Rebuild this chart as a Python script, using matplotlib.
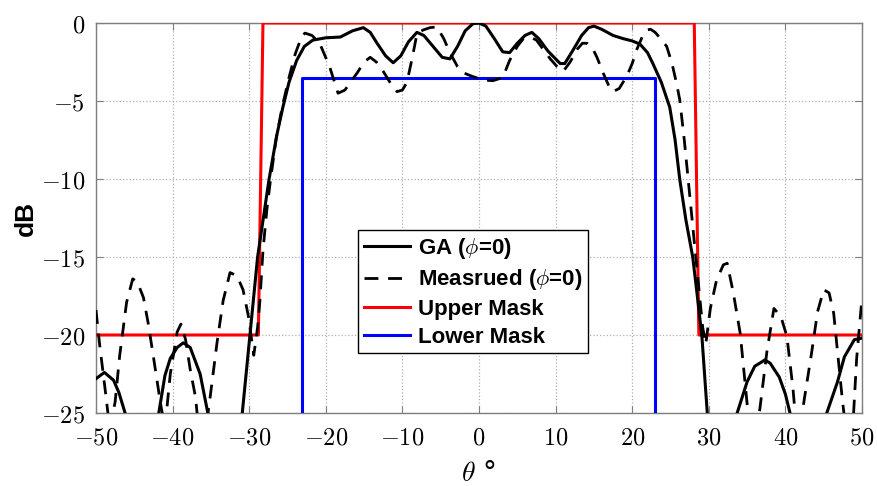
import matplotlib
matplotlib.use("Agg")
import matplotlib.pyplot as plt

plt.rcParams['mathtext.fontset'] = 'cm'

# GA (phi=0) pattern
ga_theta = [-50, -48.9, -47.7, -47.0, -46.2, -45.2, -44.0, -42.8, -41.8, -41.0, -40.3, -39.4,
            -38.6, -37.7, -36.4, -35.4, -34.5, -33.3, -32.0, -30.9, -29.9, -28.9, -27.4,
            -26.4, -25.6, -24.8, -23.8, -22.8, -21.7, -20.0, -18.1, -16.5, -15.1, -14.2,
            -13.3, -12.2, -11.2, -10.2, -9.2, -8.1, -7.2, -6.0, -4.8, -3.8, -2.8, -1.8,
            -0.8, 0.0, 0.9, 2.0, 3.1, 4.0, 5.0, 6.0, 6.9, 7.8, 9.0, 10.6, 11.2, 12.2,
            13.4, 14.3, 15.0, 16.0, 17.5, 18.8, 20.0, 21.0, 22.0, 22.7, 23.8, 24.9, 25.6,
            26.2, 27.0, 27.9, 28.5, 29.1, 29.8, 30.5, 31.5, 32.8, 33.7, 35.0, 36.0, 37.0,
            37.3, 38.0, 39.2, 40.0, 40.6, 41.5, 43.0, 44.4, 45.4, 46.8, 47.7, 49.0, 50.0]
ga_db = [-22.8, -22.4, -22.9, -23.7, -25.0, -28.0, -35.0, -28.0, -25.0, -22.6, -21.5, -20.8,
         -20.5, -20.8, -22.5, -25.0, -28.0, -35.0, -28.0, -25.0, -20.0, -15.0, -10.0,
         -7.2, -5.4, -3.8, -2.4, -1.5, -1.1, -0.95, -0.9, -0.5, -0.3, -0.6,
         -1.3, -2.1, -2.55, -2.1, -1.2, -0.6, -0.8, -1.5, -2.2, -2.3, -1.5, -0.5,
         -0.05, 0.0, -0.2, -1.0, -1.85, -1.9, -1.3, -0.8, -0.6, -1.0, -1.8, -2.6, -2.6, -1.8,
         -0.8, -0.3, -0.2, -0.4, -0.8, -1.0, -1.15, -1.35, -1.9, -2.6, -3.8, -5.4, -7.5,
         -10.0, -12.6, -15.0, -17.5, -20.1, -25.0, -30.0, -36.0, -29.0, -25.0, -23.0, -22.0, -21.7,
         -21.6, -21.8, -22.7, -23.8, -25.0, -28.0, -35.0, -28.0, -25.0, -23.0, -21.4, -20.3, -20.2]

# Measured (phi=0) pattern
ms_theta = [-50.0, -49.5, -48.8, -48.2, -47.5, -46.9, -46.5, -46.0, -45.2, -44.6, -43.8, -43.2,
            -42.5, -41.6, -41.0, -40.3, -39.4, -38.9, -38.3, -37.7, -37.0, -36.2, -35.1,
            -34.2, -33.4, -32.5, -31.6, -30.8, -30.1, -29.4, -28.9, -28.6, -28.2, -27.7,
            -27.2, -26.5, -25.7, -24.8, -24.0, -23.1, -22.7, -21.8, -20.8, -19.5, -18.4,
            -17.5, -16.8, -15.9, -15.0, -14.2, -13.4, -12.5, -11.5, -10.7, -10.0, -9.4,
            -8.7, -8.1, -7.3, -6.4, -5.5, -4.6, -3.8, -2.8, -2.0, -1.0, 0.5, 1.8, 3.1,
            4.0, 5.0, 5.8, 6.7, 7.5, 8.4, 9.3, 10.2, 11.0, 11.9, 12.8, 13.5, 14.1, 14.8,
            15.4, 16.2, 17.1, 17.5, 18.3, 19.3, 20.0, 20.6, 21.3, 21.9, 22.4, 23.0, 23.7,
            24.5, 25.2, 25.8, 26.2, 26.8, 27.3, 27.8, 28.3, 28.8, 29.2, 29.6, 30.2, 31.0,
            31.9, 32.4, 33.2, 34.1, 35.0, 35.8, 36.7, 37.6, 38.5, 39.4, 40.2, 41.0, 41.6,
            42.5, 43.4, 44.2, 45.0, 45.7, 46.3, 47.4, 48.1, 48.9, 49.3, 49.7, 50.0]
ms_db = [-18.4, -20.7, -23.5, -26.0, -24.3, -21.3, -19.8, -17.9, -16.4, -16.6, -17.6, -19.2,
         -21.4, -24.3, -26.0, -22.5, -19.8, -19.3, -20.3, -22.2, -24.0, -28.0, -24.0,
         -20.5, -17.8, -16.0, -16.2, -17.1, -18.8, -21.3, -19.5, -17.8, -14.6, -12.0,
         -10.0, -7.5, -5.4, -3.5, -2.0, -0.8, -0.65, -0.8, -1.3, -2.8, -4.5,
         -4.3, -3.8, -3.2, -2.5, -2.2, -2.5, -3.1, -3.9, -4.4, -4.3, -3.8,
         -2.2, -0.7, -0.45, -0.3, -0.25, -1.0, -1.9, -2.8, -3.2, -3.4, -3.65, -3.7, -3.5,
         -2.4, -1.5, -1.0, -0.9, -1.1, -1.7, -2.3, -2.8, -3.1, -2.5, -1.7, -1.3, -1.3, -1.6,
         -2.2, -3.2, -4.2, -4.4, -4.2, -3.4, -2.6, -1.7, -0.9, -0.45, -0.4, -0.6, -1.0,
         -1.5, -2.6, -3.9, -4.9, -7.5, -10.0, -12.5, -15.0, -17.5, -19.5, -20.6, -18.3, -16.5,
         -15.5, -15.4, -17.3, -19.9, -24.4, -28.0, -24.6, -21.0, -18.3, -18.8, -20.1, -23.5, -27.0,
         -24.0, -21.2, -18.5, -17.1, -17.3, -18.6, -24.0, -27.0, -25.0, -21.5, -19.3, -17.6]

# Masks
upper_theta = [-50, -28.8, -28.2, 28.1, 28.7, 50]
upper_db = [-20, -20, 0, 0, -20, -20]
lower_theta = [-23.1, -23.1, 23.0, 23.0]
lower_db = [-30, -3.5, -3.5, -30]

xticks = [-50, -40, -30, -20, -10, 0, 10, 20, 30, 40, 50]
yticks = [-25, -20, -15, -10, -5, 0]

fig = plt.figure(figsize=(8.78, 4.86), dpi=100)
ax = fig.add_axes([0.1093, 0.1502, 0.8725, 0.8025])

ax.plot(ga_theta, ga_db, color='black', lw=2.2, label=r'GA ($\phi$=0)', zorder=4)
ax.plot(ms_theta, ms_db, color='black', lw=2.0, dashes=(5, 3.5),
        label=r'Measrued ($\phi$=0)', zorder=4)
ax.plot(upper_theta, upper_db, color='#ff0000', lw=2.2, label='Upper Mask', zorder=3)
ax.plot(lower_theta, lower_db, color='#0000ff', lw=2.2, label='Lower Mask', zorder=3)

ax.set_xlim(-50, 50)
ax.set_ylim(-25, 0)
ax.set_xticks(xticks)
ax.set_yticks(yticks)
ax.set_xticklabels([r'$%d$' % v for v in xticks], fontsize=17.5)
ax.set_yticklabels([r'$%d$' % v for v in yticks], fontsize=17.5)
ax.tick_params(axis='x', pad=9)
ax.tick_params(axis='y', pad=8)
ax.tick_params(direction='in', length=5, width=0.8, color='#7f7f7f',
               top=True, right=True)
ax.grid(True, linestyle=':', color='#b0b0b0', lw=0.9)
for s in ax.spines.values():
    s.set_color('#7f7f7f')
    s.set_linewidth(1.0)

ax.set_xlabel(r'$\theta$ °', fontsize=20, labelpad=7)
ax.set_ylabel('dB', fontsize=19, fontweight='bold', family='Liberation Sans')
ax.yaxis.set_label_coords(-0.0914, 0.5)
ax.yaxis.label.set_va('center')

leg = ax.legend(loc='upper left', bbox_to_anchor=(0.342, 0.469),
                prop={'family': 'Liberation Sans', 'weight': 'bold', 'size': 16},
                frameon=True, fancybox=False, framealpha=1, edgecolor='black',
                handlelength=2.1, handletextpad=0.35, labelspacing=0.3,
                borderpad=0.25, borderaxespad=0)
leg.get_frame().set_linewidth(1.0)

fig.savefig('out.png', dpi=100)
